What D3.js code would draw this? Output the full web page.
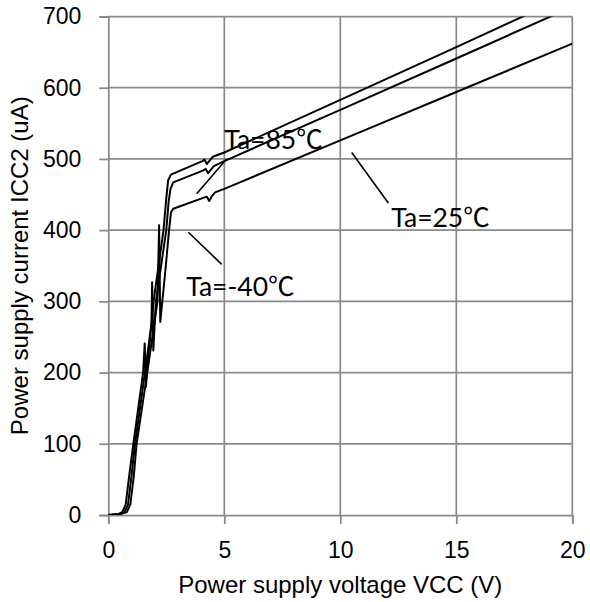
<!DOCTYPE html>
<html>
<head>
<meta charset="utf-8">
<script src="https://cdn.jsdelivr.net/npm/d3@7"></script>
<style>
  html, body { margin: 0; padding: 0; background: #fff; }
  svg { display: block; }
  .tick text { font-family: "Liberation Sans", Arial, sans-serif; }
</style>
</head>
<body>
<script>
// ---- data ----
const xTicks = [0, 5, 10, 15, 20];
const yTicks = [0, 100, 200, 300, 400, 500, 600, 700];
const xTitle = "Power supply voltage VCC (V)";
const yTitle = "Power supply current ICC2 (uA)";

// upper curve
const vccA = [0, 0.4, 0.6, 0.75, 0.9, 1.08, 1.5, 1.57, 1.62, 1.7, 1.95, 2.38, 2.5, 2.58, 2.7, 4.05, 4.15, 4.25, 4.35, 4.5, 5, 10, 15, 18];
const iccA = [0, 1, 4, 15, 55, 100, 200, 241, 180, 213, 300, 400, 445, 470, 478, 497, 499, 493, 497, 503, 509, 583, 657, 702];
// middle curve
const vccB = [0, 0.45, 0.7, 0.85, 1.0, 1.15, 1.58, 1.86, 1.89, 1.94, 2.05, 2.5, 2.6, 2.68, 2.8, 4.1, 4.2, 4.3, 4.4, 4.55, 5, 10, 15, 19.2];
const iccB = [0, 1, 4, 15, 55, 100, 200, 268, 327, 231, 300, 400, 440, 458, 467, 484, 486, 480, 484, 490, 497, 569, 641, 702];
// lower curve
const vccC = [0, 0.5, 0.8, 0.95, 1.1, 1.22, 1.68, 2.12, 2.19, 2.24, 2.45, 2.62, 2.7, 2.8, 4.15, 4.25, 4.35, 4.45, 4.6, 5, 10, 15, 20];
const iccC = [0, 1, 4, 15, 55, 100, 200, 300, 407, 271, 340, 400, 425, 430, 446, 447, 441, 447, 453, 458, 526, 594, 662];

// annotations: label text, text anchor point (V, uA), leader from/to (V, uA)
const labelText = ["Ta=85℃", "Ta=-40℃", "Ta=25℃"];
const labelPos  = [[5.0, 514], [3.36, 307], [12.2, 405]];
const leaderFrom = [[3.81, 451], [3.45, 397], [10.49, 509]];
const leaderTo   = [[5.10, 500], [4.89, 352], [12.07, 438]];

// ---- layout ----
const W = 590, H = 602;
const M = { left: 108.3, right: 572.3, top: 16.5, bottom: 515 };

const svg = d3.select("body").append("svg").attr("width", W).attr("height", H);

const x = d3.scaleLinear().domain([0, 20]).range([M.left, M.right]);
const y = d3.scaleLinear().domain([0, 700]).range([M.bottom, M.top]);

const gridColor = "#8a8a8a";

// grid
const grid = svg.append("g");
grid.selectAll("line.h").data(yTicks.filter(d => d > 0)).join("line")
  .attr("x1", M.left).attr("x2", M.right)
  .attr("y1", d => y(d)).attr("y2", d => y(d))
  .attr("stroke", gridColor).attr("stroke-width", 1.75);
grid.selectAll("line.v").data(xTicks.filter(d => d > 0)).join("line")
  .attr("y1", M.top).attr("y2", M.bottom)
  .attr("x1", d => x(d)).attr("x2", d => x(d))
  .attr("stroke", gridColor).attr("stroke-width", 1.75);

// axes
const xAxis = svg.append("g").attr("transform", `translate(0,${M.bottom})`)
  .call(d3.axisBottom(x).tickValues(xTicks).tickSize(9).tickPadding(18).tickFormat(d3.format("d")));
const yAxis = svg.append("g").attr("transform", `translate(${M.left},0)`)
  .call(d3.axisLeft(y).tickValues(yTicks).tickSize(9).tickPadding(18).tickFormat(d3.format("d")));
[xAxis, yAxis].forEach(g => {
  g.select(".domain").attr("stroke", gridColor).attr("stroke-width", 1.75);
  g.selectAll(".tick line").attr("stroke", gridColor).attr("stroke-width", 1.75);
  g.selectAll(".tick text").attr("fill", "#000").attr("font-size", 23);
});

// clip
svg.append("clipPath").attr("id", "plotclip").append("rect")
  .attr("x", M.left).attr("y", M.top).attr("width", M.right - M.left).attr("height", M.bottom - M.top);

const line = d3.line().x(d => x(d[0])).y(d => y(d[1]));
const curves = [
  d3.zip(vccA, iccA),
  d3.zip(vccB, iccB),
  d3.zip(vccC, iccC)
];
svg.append("g").attr("clip-path", "url(#plotclip)")
  .selectAll("path").data(curves).join("path")
  .attr("d", line).attr("fill", "none").attr("stroke", "#000")
  .attr("stroke-width", 2).attr("stroke-linejoin", "round");

// leaders
svg.append("g").selectAll("line").data(d3.range(labelText.length)).join("line")
  .attr("x1", i => x(leaderFrom[i][0])).attr("y1", i => y(leaderFrom[i][1]))
  .attr("x2", i => x(leaderTo[i][0])).attr("y2", i => y(leaderTo[i][1]))
  .attr("stroke", "#000").attr("stroke-width", 1.6);

// labels
svg.append("g").selectAll("text").data(d3.range(labelText.length)).join("text")
  .attr("x", i => x(labelPos[i][0])).attr("y", i => y(labelPos[i][1]))
  .attr("font-family", "Lato, 'Noto Sans CJK JP', sans-serif")
  .attr("font-size", 26.5).attr("fill", "#000")
  .text(i => labelText[i]);

// axis titles
svg.append("text")
  .attr("x", (M.left + M.right) / 2).attr("y", 593)
  .attr("text-anchor", "middle")
  .attr("font-family", "'Liberation Sans', Arial, sans-serif").attr("font-size", 24)
  .text(xTitle);
svg.append("text")
  .attr("transform", `translate(28,${(M.top + M.bottom) / 2}) rotate(-90)`)
  .attr("text-anchor", "middle")
  .attr("font-family", "'Liberation Sans', Arial, sans-serif").attr("font-size", 24)
  .text(yTitle);
</script>
</body>
</html>
